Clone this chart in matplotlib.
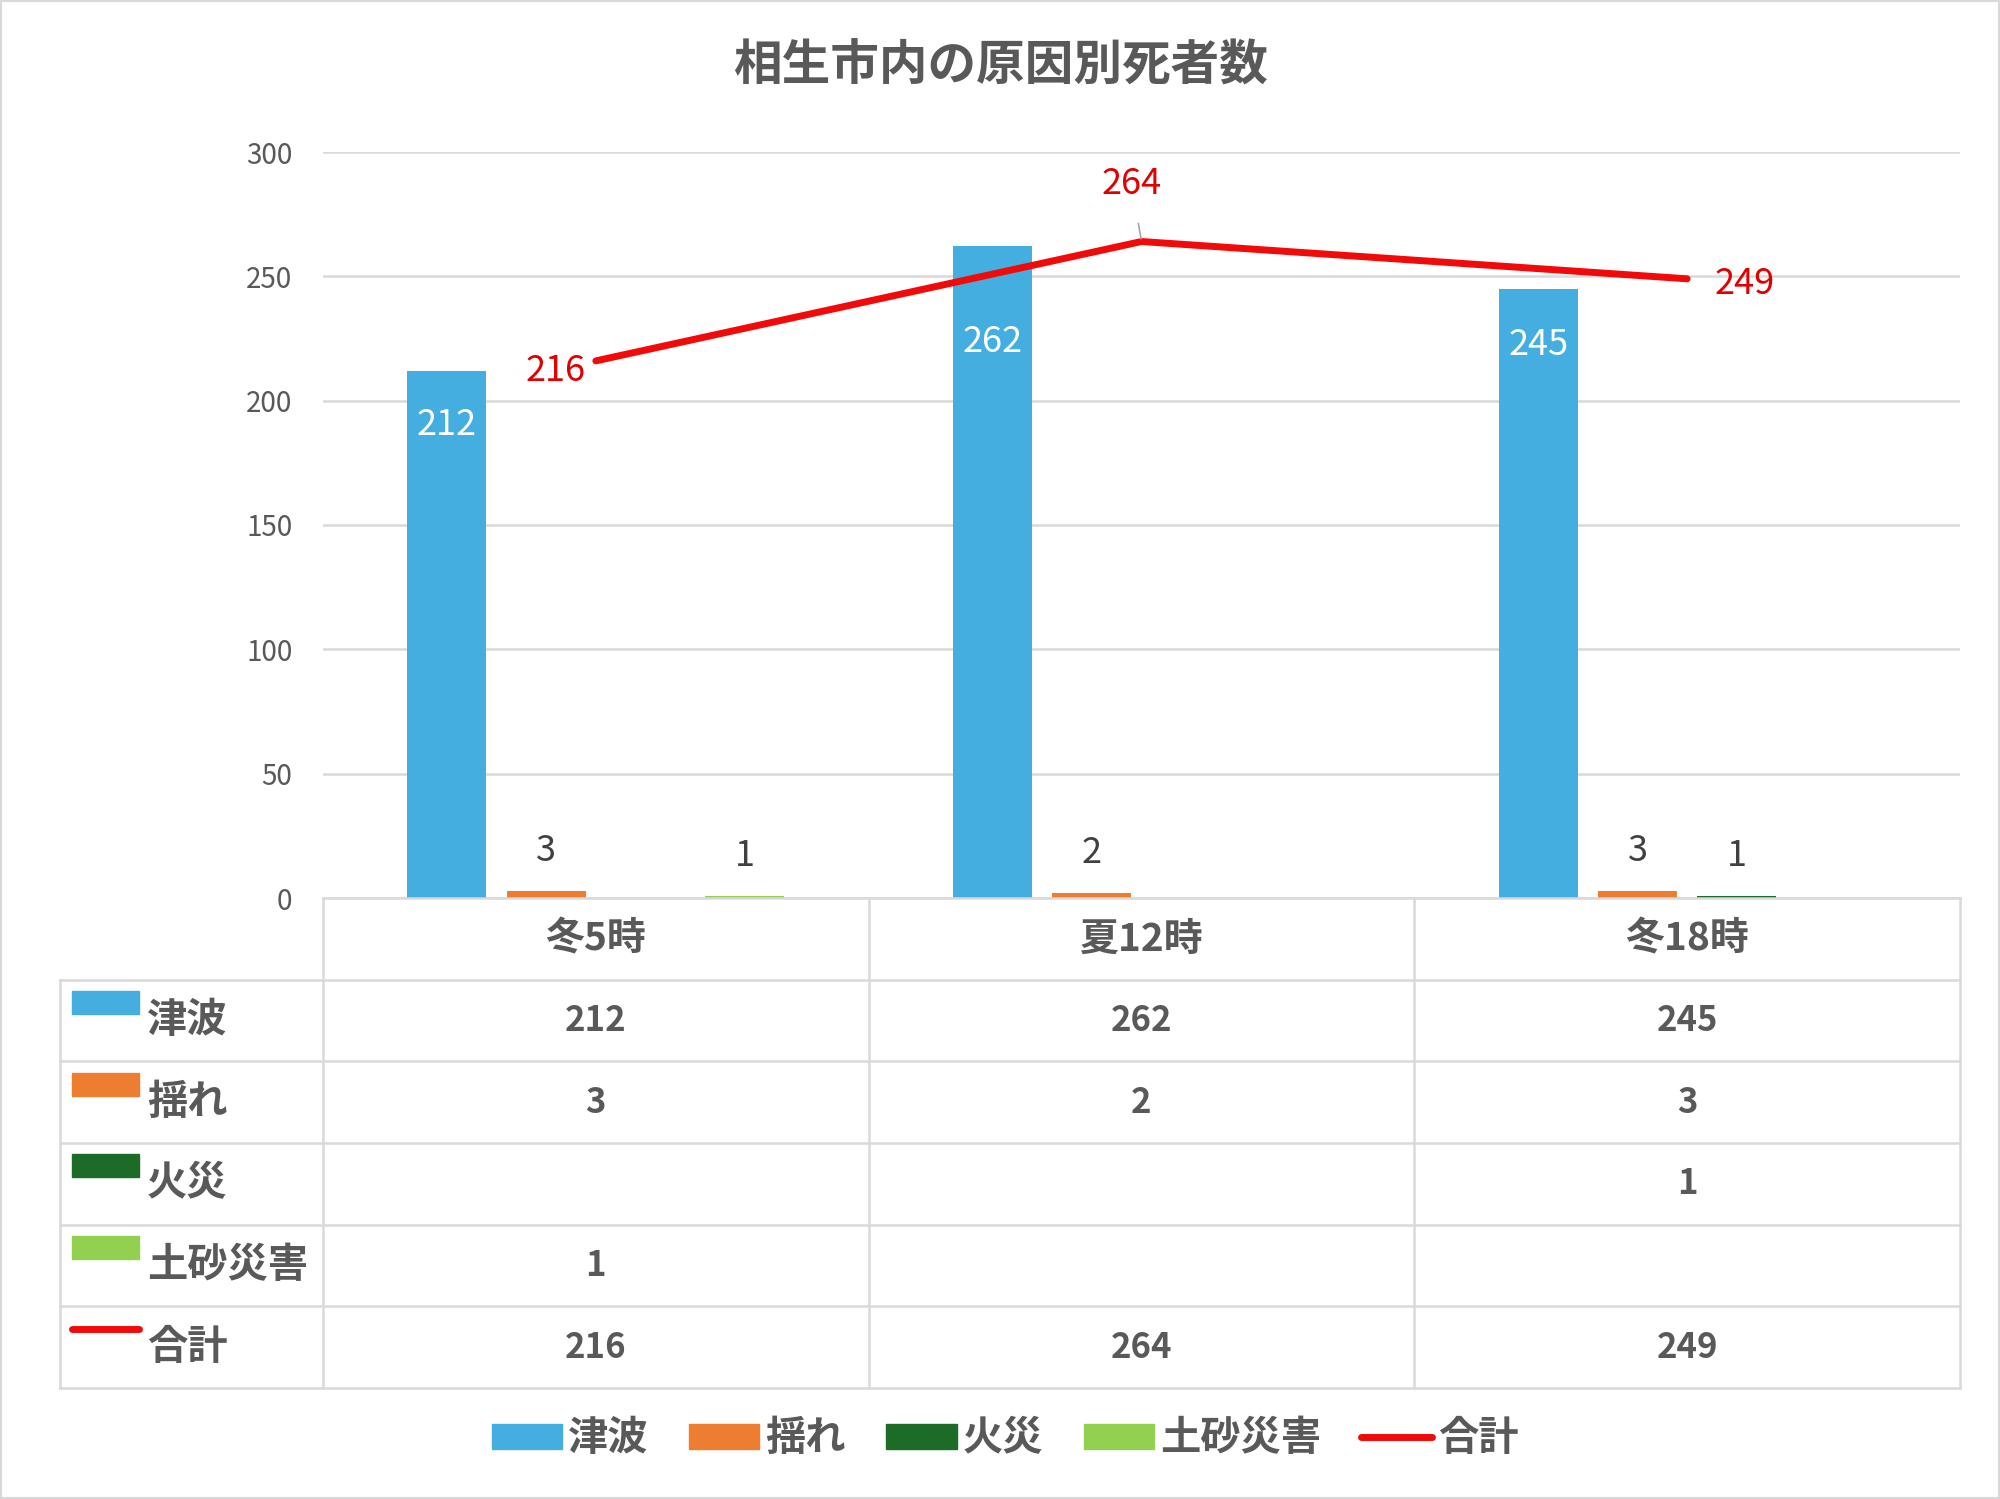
import matplotlib
matplotlib.use('Agg')
import matplotlib.pyplot as plt
from matplotlib.patches import Patch, Rectangle
from matplotlib.lines import Line2D

plt.rcParams['font.family'] = ['Noto Sans CJK JP', 'DejaVu Sans']

categories = ['冬5時', '夏12時', '冬18時']
series_names = ['津波', '揺れ', '火災', '土砂災害']
tsunami = [212, 262, 245]
shaking = [3, 2, 3]
fire = [None, None, 1]
landslide = [1, None, None]
total_name = '合計'
total = [216, 264, 249]

colors = ['#45AEE0', '#ED7D31', '#1C6B26', '#92D050']
red = '#F00A0A'
gray_txt = '#595959'
grid_col = '#D9D9D9'

W, H = 2000, 1499


def fx(px):
    return px / W


def fy(py):
    return 1 - py / H


def main():
    fig = plt.figure(figsize=(20, 14.99), dpi=100)
    fig.patches.append(Rectangle((0, 0), 1, 1, transform=fig.transFigure,
                                 fill=False, edgecolor=grid_col, linewidth=3))

    # plot area
    left, right, top, bottom = 323, 1960, 152, 898
    ax = fig.add_axes([fx(left), fy(bottom), fx(right - left), (bottom - top) / H])
    ax.set_xlim(-0.5, 2.5)
    ax.set_ylim(0, 300)
    ax.set_yticks(range(0, 301, 50))
    ax.set_xticks([])
    for s in ax.spines.values():
        s.set_visible(False)
    ax.grid(axis='y', color=grid_col, linewidth=1.8)
    ax.set_axisbelow(True)
    ax.tick_params(axis='y', length=0, pad=22, labelsize=20, labelcolor=gray_txt)

    all_series = [tsunami, shaking, fire, landslide]
    width = 0.145
    step = 0.182
    # inside-label offsets for the tall bars (the middle one sits under the line)
    inside_off = [-54, -96, -56]
    for k, vals in enumerate(all_series):
        off = (k - 1.5) * step
        for i, v in enumerate(vals):
            if v is None:
                continue
            ax.bar(i + off, v, width, color=colors[k], zorder=2)
            if k == 0:
                ax.annotate(str(v), (i + off, v), xytext=(0, inside_off[i]),
                            textcoords='offset pixels', ha='center', va='center',
                            fontsize=26, color='white', zorder=4)
            else:
                ax.annotate(str(v), (i + off, v), xytext=(0, 40),
                            textcoords='offset pixels', ha='center', va='center',
                            fontsize=26, color='#404040', zorder=4)

    xs = list(range(len(categories)))
    ax.plot(xs, total, color=red, linewidth=5, zorder=3, solid_capstyle='round')
    offsets = [(-40, -10), (-10, 58), (57, -5)]
    for i, v in enumerate(total):
        kw = {}
        if i == 1:
            kw['arrowprops'] = dict(arrowstyle='-', color='#A6A6A6', lw=1.2,
                                    shrinkA=14, shrinkB=2)
        ax.annotate(str(v), (i, v), xytext=offsets[i], textcoords='offset pixels',
                    ha='center', va='center', fontsize=26, color='#E00000',
                    zorder=5, **kw)

    # data table
    tl = 60
    unit = 3 / (right - left)
    x0 = -0.5 - (left - tl) * unit
    axt = fig.add_axes([fx(tl), fy(1388), fx(right - tl), (1388 - bottom) / H])
    axt.set_xlim(x0, 2.5)
    axt.set_ylim(6, 0)
    axt.axis('off')
    lw = 1.8
    axt.plot([-0.5, 2.5], [0, 0], color=grid_col, lw=lw, clip_on=False)
    for r in range(1, 7):
        axt.plot([x0, 2.5], [r, r], color=grid_col, lw=lw, clip_on=False)
    for c in [-0.5, 0.5, 1.5, 2.5]:
        axt.plot([c, c], [0, 6], color=grid_col, lw=lw, clip_on=False)
    axt.plot([x0, x0], [1, 6], color=grid_col, lw=lw, clip_on=False)

    for i, cat in enumerate(categories):
        axt.text(i, 0.5, cat, ha='center', va='center', fontsize=28,
                 fontweight='bold', color=gray_txt)

    rows = all_series + [total]
    names = series_names + [total_name]
    key_w = 67 * unit
    for r, (name, vals) in enumerate(zip(names, rows)):
        yc = r + 1.5
        kx = x0 + 12 * unit
        if r < 4:
            axt.add_patch(Rectangle((kx, yc - 0.36), key_w, 0.28,
                                    color=colors[r], clip_on=False))
        else:
            axt.plot([kx, kx + key_w], [yc - 0.22, yc - 0.22], color=red,
                     lw=5, solid_capstyle='round', clip_on=False)
        axt.text(kx + key_w + 8 * unit, yc, name, ha='left', va='center',
                 fontsize=29, fontweight='bold', color=gray_txt)
        for i, v in enumerate(vals):
            if v is None:
                continue
            axt.text(i, yc, str(v), ha='center', va='center', fontsize=25,
                     fontweight='bold', color=gray_txt)

    # legend
    handles = [Patch(color=c) for c in colors]
    handles.append(Line2D([0], [0], color=red, lw=5, solid_capstyle='round'))
    leg = fig.legend(handles, series_names + [total_name], loc='center',
                     bbox_to_anchor=(fx(1005), fy(1439)), ncol=5, frameon=False,
                     fontsize=29, handlelength=1.75, handleheight=0.6,
                     handletextpad=0.15, columnspacing=1.0)
    for t in leg.get_texts():
        t.set_color(gray_txt)
        t.set_fontweight('bold')

    fig.text(0.5, fy(66), '相生市内の原因別死者数', ha='center', va='center',
             fontsize=35, fontweight='bold', color=gray_txt)

    fig.savefig('out.png', dpi=100)
    plt.close(fig)


if __name__ == '__main__':
    main()
